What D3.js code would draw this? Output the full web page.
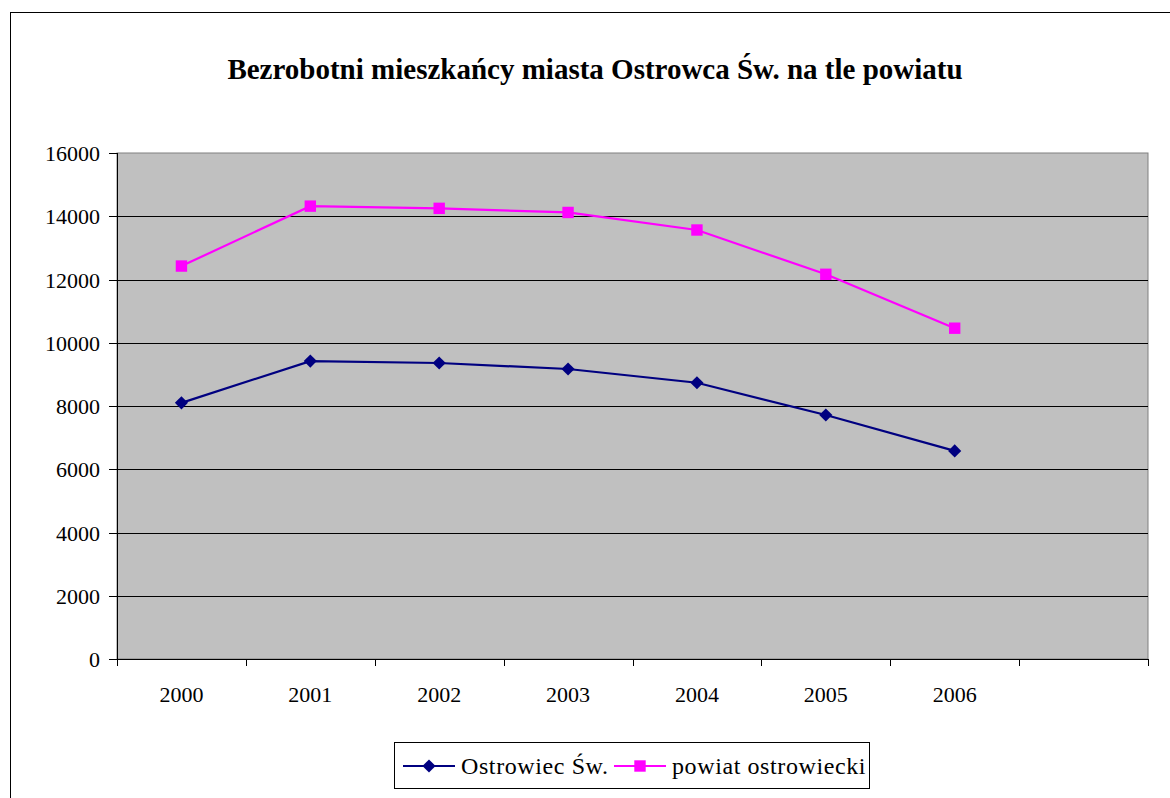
<!DOCTYPE html>
<html>
<head>
<meta charset="utf-8">
<script src="https://cdn.jsdelivr.net/npm/d3@7"></script>
<style>
  html, body { margin: 0; padding: 0; background: #fff; }
  svg text { font-family: "Liberation Serif", "DejaVu Serif", serif; }
</style>
</head>
<body>
<svg id="chart" width="1170" height="798"></svg>
<script>
const title = "Bezrobotni mieszkańcy miasta Ostrowca Św. na tle powiatu";
const years = ["2000", "2001", "2002", "2003", "2004", "2005", "2006"];
const slots = [...years, ""]; // Excel left one empty category on the right
const ostrowiec = [8100, 9420, 9360, 9170, 8735, 7715, 6580];
const powiat = [12425, 14320, 14250, 14120, 13565, 12165, 10460];
const yTicks = [0, 2000, 4000, 6000, 8000, 10000, 12000, 14000, 16000];
const seriesNames = ["Ostrowiec Św.", "powiat ostrowiecki"];

const width = 1170;
const height = 798;
const margin = { top: 153, right: 22, bottom: 139, left: 117 };
const serif = "Liberation Serif";

const svg = d3.select("#chart");

// outer chart frame (runs off the right/bottom edge like the source)
svg.append("rect")
  .attr("x", 10.5).attr("y", 12.5)
  .attr("width", 1200).attr("height", 820)
  .attr("fill", "#fff").attr("stroke", "#000").attr("stroke-width", 1);

svg.append("text")
  .attr("x", 595).attr("y", 79)
  .attr("text-anchor", "middle")
  .attr("font-family", serif)
  .style("font-size", "29px").style("font-weight", "bold")
  .text(title);

const x = d3.scaleBand()
  .domain(slots)
  .range([margin.left, width - margin.right]);

const y = d3.scaleLinear()
  .domain([0, 16000])
  .range([height - margin.bottom, margin.top]);

const x0 = margin.left, x1 = width - margin.right;
const y0 = height - margin.bottom, y1 = margin.top;

svg.append("rect")
  .attr("x", x0).attr("y", y1)
  .attr("width", x1 - x0).attr("height", y0 - y1)
  .attr("fill", "#c0c0c0")
  .attr("stroke", "#808080").attr("stroke-width", 1);

// y axis labels
svg.append("g")
  .attr("transform", `translate(${x0},0)`)
  .call(d3.axisLeft(y).tickValues(yTicks).tickFormat(d3.format("d")).tickSize(0))
  .call((g) => g.select(".domain").remove())
  .call((g) => g.selectAll(".tick line").remove())
  .call((g) => g.attr("font-family", serif))
  .call((g) => g.selectAll("text")
    .attr("fill", "#000").style("font-size", "22px")
    .attr("x", -17).attr("dy", "0.35em"));

// gridlines
svg.append("g")
  .selectAll("line")
  .data(yTicks.slice(1, -1))
  .join("line")
  .attr("x1", x0).attr("x2", x1)
  .attr("y1", (d) => Math.round(y(d)) + 0.5).attr("y2", (d) => Math.round(y(d)) + 0.5)
  .attr("stroke", "#000").attr("stroke-width", 1);

svg.append("g")
  .selectAll("line")
  .data(yTicks)
  .join("line")
  .attr("x1", x0 - 8).attr("x2", x0)
  .attr("y1", (d) => Math.round(y(d)) + 0.5).attr("y2", (d) => Math.round(y(d)) + 0.5)
  .attr("stroke", "#000");

// axis lines
svg.append("line")
  .attr("x1", x0 + 0.5).attr("x2", x0 + 0.5)
  .attr("y1", y1).attr("y2", y0 + 7)
  .attr("stroke", "#000");
svg.append("line")
  .attr("x1", x0).attr("x2", x1)
  .attr("y1", y0 + 0.5).attr("y2", y0 + 0.5)
  .attr("stroke", "#000");

// category boundary ticks
svg.append("g")
  .selectAll("line")
  .data(slots)
  .join("line")
  .attr("x1", (d) => Math.round(x(d) + x.bandwidth()) + 0.5)
  .attr("x2", (d) => Math.round(x(d) + x.bandwidth()) + 0.5)
  .attr("y1", y0).attr("y2", y0 + 7)
  .attr("stroke", "#000");

svg.append("g")
  .attr("transform", `translate(0,${y0})`)
  .call(d3.axisBottom(x).tickValues(years).tickSize(0).tickPadding(27))
  .call((g) => g.select(".domain").remove())
  .call((g) => g.attr("font-family", serif))
  .call((g) => g.selectAll("text")
    .attr("fill", "#000").style("font-size", "22px"));

const cx = (d, i) => x(years[i]) + x.bandwidth() / 2;

const line = d3.line()
  .x(cx)
  .y((d) => y(d));

const diamond = d3.symbol().type(d3.symbolDiamond2).size(110);
const square = d3.symbol().type(d3.symbolSquare).size(130);

svg.append("path")
  .datum(ostrowiec)
  .attr("d", line)
  .attr("fill", "none").attr("stroke", "#000080").attr("stroke-width", 2.2);

svg.append("path")
  .datum(powiat)
  .attr("d", line)
  .attr("fill", "none").attr("stroke", "#ff00ff").attr("stroke-width", 2.2);

svg.append("g")
  .selectAll("path")
  .data(ostrowiec)
  .join("path")
  .attr("transform", (d, i) => `translate(${cx(d, i)},${y(d)})`)
  .attr("d", diamond)
  .attr("fill", "#000080");

svg.append("g")
  .selectAll("path")
  .data(powiat)
  .join("path")
  .attr("transform", (d, i) => `translate(${cx(d, i)},${y(d)})`)
  .attr("d", square)
  .attr("fill", "#ff00ff");

// legend
const legend = svg.append("g");
legend.append("rect")
  .attr("x", 394.5).attr("y", 742.5)
  .attr("width", 475).attr("height", 46)
  .attr("fill", "#fff").attr("stroke", "#000");

const legendItems = [
  { name: seriesNames[0], color: "#000080", sym: diamond, x: 403 },
  { name: seriesNames[1], color: "#ff00ff", sym: square, x: 614 },
];
const li = legend.selectAll("g.item")
  .data(legendItems)
  .join("g")
  .attr("class", "item")
  .attr("transform", (d) => `translate(${d.x},766)`);
li.append("line")
  .attr("x1", 0).attr("x2", 52)
  .attr("stroke", (d) => d.color).attr("stroke-width", 2.2);
li.append("path")
  .attr("transform", "translate(26,0)")
  .attr("d", (d) => d.sym())
  .attr("fill", (d) => d.color);
li.append("text")
  .attr("x", 58).attr("dy", "0.35em")
  .attr("font-family", serif)
  .style("font-size", "24px").style("letter-spacing", "0.6px")
  .text((d) => d.name);
</script>
</body>
</html>
